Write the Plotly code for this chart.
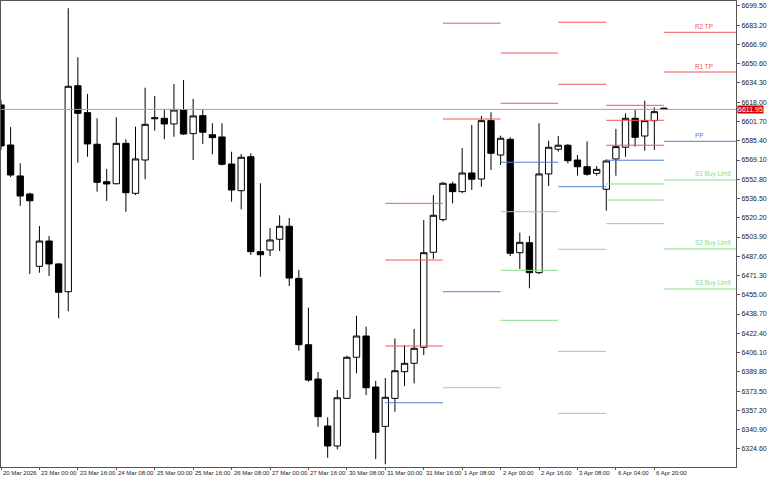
import plotly.graph_objects as go

# ---- data (H4 bars, index 0..69) ----
bar_idx = list(range(70))
opens = [6615.7, 6581.8, 6555.6, 6540.3, 6479.1, 6500.5, 6481.1, 6457.6, 6632.0, 6609.2,
         6582.4, 6550.7, 6549.0, 6583.2, 6540.9, 6569.1, 6604.0, 6604.4, 6599.6, 6611.4,
         6591.4, 6606.6, 6590.5, 6588.6, 6565.7, 6543.1, 6571.9, 6491.5, 6492.9, 6502.0,
         6513.0, 6468.9, 6412.7, 6383.7, 6343.9, 6327.0, 6367.3, 6402.1, 6420.1, 6376.9,
         6343.6, 6367.3, 6389.9, 6397.0, 6410.5, 6491.0, 6518.6, 6548.8, 6542.3, 6558.1,
         6553.0, 6602.4, 6573.3, 6586.6, 6490.6, 6499.1, 6473.7, 6557.3, 6578.2, 6581.6,
         6569.1, 6563.4, 6557.8, 6544.3, 6570.0, 6579.9, 6604.4, 6589.4, 6602.4, 6613.0]
highs = [6619.9, 6597.0, 6566.3, 6541.4, 6513.2, 6504.8, 6481.9, 6697.6, 6656.1, 6625.0,
         6604.4, 6561.5, 6605.3, 6586.6, 6597.3, 6630.3, 6623.3, 6611.4, 6633.5, 6636.8,
         6620.8, 6612.3, 6600.2, 6600.2, 6576.1, 6574.2, 6574.8, 6549.4, 6511.5, 6522.3,
         6520.0, 6476.0, 6444.1, 6389.6, 6351.3, 6374.4, 6403.4, 6437.3, 6428.0, 6382.2,
         6384.5, 6418.1, 6412.5, 6426.0, 6518.3, 6539.5, 6550.5, 6550.7, 6579.3, 6598.7,
         6606.4, 6609.5, 6589.7, 6588.3, 6507.6, 6504.8, 6600.2, 6585.5, 6589.4, 6582.5,
         6573.3, 6584.9, 6564.0, 6569.7, 6595.4, 6608.6, 6611.4, 6619.3, 6613.7, 6613.3]
lows = [6577.6, 6554.7, 6530.2, 6472.6, 6473.7, 6470.9, 6435.1, 6441.0, 6566.8, 6571.9,
        6542.3, 6534.4, 6548.4, 6525.3, 6539.5, 6552.8, 6593.9, 6586.6, 6588.8, 6590.3,
        6569.1, 6582.7, 6573.9, 6564.5, 6533.8, 6527.4, 6488.7, 6470.3, 6487.8, 6492.1,
        6462.4, 6407.6, 6381.4, 6343.3, 6317.0, 6324.2, 6367.1, 6388.5, 6370.1, 6315.9,
        6311.5, 6356.0, 6377.8, 6380.0, 6404.0, 6485.3, 6517.0, 6532.4, 6541.0, 6543.7,
        6546.5, 6560.6, 6564.9, 6487.8, 6476.8, 6460.5, 6472.6, 6547.1, 6576.1, 6566.3,
        6555.8, 6555.8, 6555.8, 6526.2, 6555.8, 6571.9, 6580.4, 6577.0, 6577.6, 6611.5]
closes = [6581.0, 6556.4, 6538.6, 6534.6, 6500.5, 6481.1, 6457.1, 6631.5, 6608.6, 6582.7,
          6550.2, 6548.8, 6583.2, 6541.4, 6570.0, 6599.3, 6604.8, 6599.6, 6611.4, 6591.1,
          6606.4, 6592.6, 6588.0, 6565.5, 6543.7, 6571.4, 6491.5, 6488.9, 6501.4, 6513.0,
          6469.2, 6412.7, 6382.8, 6351.8, 6327.0, 6367.8, 6402.1, 6420.1, 6376.3, 6338.6,
          6368.2, 6390.7, 6397.0, 6409.7, 6490.6, 6522.3, 6549.4, 6542.3, 6558.1, 6552.8,
          6602.4, 6574.8, 6587.5, 6490.1, 6499.4, 6473.7, 6557.3, 6579.9, 6581.6, 6568.5,
          6563.4, 6557.0, 6561.2, 6568.3, 6580.4, 6604.4, 6588.3, 6602.4, 6610.0, 6611.95]

tick_bars = [0, 4, 8, 12, 16, 20, 24, 28, 32, 36, 40, 44, 48, 52, 56, 60, 64, 68]
tick_labels = ["20 Mar 2026", "23 Mar 00:00", "23 Mar 16:00", "24 Mar 08:00", "25 Mar 00:00",
               "25 Mar 16:00", "26 Mar 08:00", "27 Mar 00:00", "27 Mar 16:00", "30 Mar 08:00",
               "31 Mar 00:00", "31 Mar 16:00", "1 Apr 08:00", "2 Apr 00:00", "2 Apr 16:00",
               "3 Apr 08:00", "6 Apr 04:00", "6 Apr 20:00"]

price_ticks = [6324.60, 6340.90, 6357.20, 6373.50, 6389.80, 6406.10, 6422.40, 6438.70,
               6455.00, 6471.30, 6487.60, 6503.90, 6520.20, 6536.50, 6552.80, 6569.10,
               6585.40, 6601.70, 6618.00, 6634.30, 6650.60, 6666.90, 6683.20, 6699.50]

# daily pivot levels (period start / end bar)
period_start = [40, 46, 52, 58, 63, 69]
period_end = [46, 52, 58, 63, 69, 77]
pp = [6363.6, 6457.6, 6567.2, 6546.5, 6568.9, 6584.9]
r1 = [6411.6, 6603.8, 6617.1, 6633.2, 6581.6, 6643.6]
r2 = [6484.4, 6684.9, 6659.7, 6685.7, 6602.7, 6677.2]
r3 = [6532.4, None, None, None, 6615.4, None]
s1 = [None, 6376.3, 6525.3, 6493.5, 6548.8, 6552.2]
s2 = [None, None, 6475.7, 6407.1, 6535.2, 6493.8]
s3 = [None, None, 6433.4, 6354.6, 6515.2, 6459.9]

level_names = ["R2 TP", "R1 TP", "PP", "S1 Buy Limit", "S2 Buy Limit", "S3 Buy Limit"]
current_price = 6611.95

RED = "#f05a5a"
BLUE = "#4f80d4"
GREEN = "#86dc86"

fig = go.Figure()


def seg_trace(levels, color):
    xs, ys = [], []
    for a, b, v in zip(period_start, period_end, levels):
        if v is None:
            continue
        xs += [a, b, None]
        ys += [v, v, None]
    return go.Scatter(x=xs, y=ys, mode="lines", line=dict(color=color, width=1),
                      hoverinfo="skip", showlegend=False)


fig.add_trace(go.Candlestick(
    x=bar_idx, open=opens, high=highs, low=lows, close=closes,
    increasing=dict(fillcolor="#ffffff", line=dict(color="#000000", width=1)),
    decreasing=dict(fillcolor="#000000", line=dict(color="#000000", width=1)),
    whiskerwidth=0, showlegend=False))

for lv, col in [(r3, RED), (r2, RED), (r1, RED), (pp, BLUE), (s1, GREEN), (s2, GREEN), (s3, GREEN)]:
    fig.add_trace(seg_trace(lv, col))

# current price line
fig.add_shape(type="line", xref="paper", x0=0, x1=1, yref="y", y0=current_price, y1=current_price,
              line=dict(color="#ee8080", width=1))

annotations = []
# x-axis labels (left aligned at ticks, MT style)
for b, t in zip(tick_bars, tick_labels):
    annotations.append(dict(x=b, y=0, xref="x", yref="paper", text=t, showarrow=False,
                            xanchor="left", yanchor="top", xshift=0, yshift=-1,
                            font=dict(size=6, color="#222", family="Liberation Sans")))

# pivot labels for the current day
last_vals = [r2[-1], r1[-1], pp[-1], s1[-1], s2[-1], s3[-1]]
last_cols = [RED, RED, BLUE, GREEN, GREEN, GREEN]
for name, v, c in zip(level_names, last_vals, last_cols):
    annotations.append(dict(x=72.05, y=v, xref="x", yref="y", text=name, showarrow=False,
                            xanchor="left", yanchor="bottom", yshift=0,
                            font=dict(size=6.4, color=c, family="Liberation Sans")))

# current price tag
annotations.append(dict(x=1, y=current_price, xref="paper", yref="y", text="6611.95",
                        showarrow=False, xanchor="left", yanchor="middle", xshift=1,
                        bgcolor="#cc0000", borderpad=0,
                        font=dict(size=7, color="#ffffff", family="Liberation Sans")))

fig.update_layout(
    width=768, height=480,
    margin=dict(l=1, r=32, t=1, b=13),
    paper_bgcolor="#ffffff", plot_bgcolor="#ffffff",
    boxgap=0.34, boxgroupgap=0,
    annotations=annotations,
    showlegend=False,
    xaxis=dict(range=[0.0, 76.5], rangeslider=dict(visible=False), showgrid=False,
               zeroline=False, showline=True, linecolor="#555555", linewidth=1, mirror=True,
               tickvals=tick_bars, showticklabels=False, ticks="outside", ticklen=2,
               tickcolor="#555555", automargin=False),
    yaxis=dict(range=[6309.2, 6703.7], side="right", showgrid=False, zeroline=False,
               showline=True, linecolor="#555555", linewidth=1, mirror=True,
               tickvals=price_ticks, ticktext=[f"{v:.2f}" for v in price_ticks],
               ticks="outside", ticklen=3, tickcolor="#555555",
               tickfont=dict(size=7, color="#222", family="Liberation Sans"),
               automargin=False),
)

fig.write_html("out.html", config={"displayModeBar": False},
               post_script="document.body.style.margin='0';document.body.style.overflow='hidden';")
